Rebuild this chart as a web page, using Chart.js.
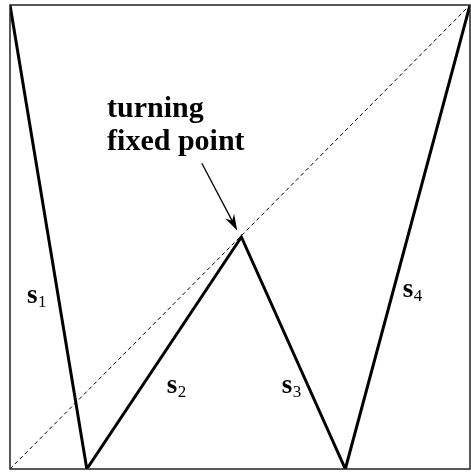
<!DOCTYPE html>
<html>
<head>
<meta charset="utf-8">
<script src="https://cdn.jsdelivr.net/npm/chart.js@4"></script>
<style>
  html, body { margin: 0; padding: 0; background: #fff; }
  #wrap { width: 471px; height: 472px; }
</style>
</head>
<body>
<div id="wrap"><canvas id="mapChart" width="471" height="472"></canvas></div>
<script>
// piecewise linear map: breakpoints of the four branches s1..s4
const mapX = [0, 0.167, 0.503, 0.729, 1];
const mapY = [1, 0, 0.5, 0, 1];

// identity line y = x
const diagX = [0, 1];
const diagY = [0, 1];

// branch labels (text, subscript) and where they sit, in data units
const branchNames = ['1', '2', '3', '4'];
const branchLabelX = [0.037, 0.341, 0.591, 0.854];
const branchLabelY = [0.358, 0.164, 0.164, 0.371];

const noteLines = ['turning', 'fixed point'];

const toPoints = (xs, ys) => xs.map((x, i) => ({ x: x, y: ys[i] }));

// frame round the plot area plus the text and arrow
const annotations = {
    id: 'annotations',
    afterDatasetsDraw(chart) {
        const { ctx, chartArea: a, scales: { x, y } } = chart;
        ctx.save();

        ctx.strokeStyle = '#222';
        ctx.lineWidth = 1.5;
        ctx.strokeRect(a.left, a.top, a.right - a.left, a.bottom - a.top);

        ctx.fillStyle = '#000';
        ctx.textBaseline = 'alphabetic';
        ctx.textAlign = 'left';

        // s_i labels
        branchNames.forEach((n, i) => {
            const px = x.getPixelForValue(branchLabelX[i]);
            const py = y.getPixelForValue(branchLabelY[i]);
            ctx.font = 'bold 27px "Liberation Serif", "Times New Roman", serif';
            ctx.fillText('s', px, py);
            const w = ctx.measureText('s').width;
            ctx.font = '17px "Liberation Serif", "Times New Roman", serif';
            ctx.fillText(n, px + w + 0.5, py + 4);
        });

        // note above the fixed point
        ctx.font = 'bold 30px "Liberation Serif", "Times New Roman", serif';
        const nx = x.getPixelForValue(0.211);
        ctx.fillText(noteLines[0], nx, y.getPixelForValue(0.759));
        ctx.fillText(noteLines[1], nx, y.getPixelForValue(0.6875));

        // arrow pointing at the fixed point
        const x0 = x.getPixelForValue(0.417), y0 = y.getPixelForValue(0.659);
        const x1 = x.getPixelForValue(0.494), y1 = y.getPixelForValue(0.514);
        const ang = Math.atan2(y1 - y0, x1 - x0);
        ctx.strokeStyle = '#000';
        ctx.lineWidth = 1.3;
        ctx.beginPath();
        ctx.moveTo(x0, y0);
        ctx.lineTo(x1 - 10 * Math.cos(ang), y1 - 10 * Math.sin(ang));
        ctx.stroke();
        ctx.beginPath();
        ctx.moveTo(x1, y1);
        ctx.lineTo(x1 - 17 * Math.cos(ang - 0.3), y1 - 17 * Math.sin(ang - 0.3));
        ctx.lineTo(x1 - 11 * Math.cos(ang), y1 - 11 * Math.sin(ang));
        ctx.lineTo(x1 - 17 * Math.cos(ang + 0.3), y1 - 17 * Math.sin(ang + 0.3));
        ctx.closePath();
        ctx.fill();

        ctx.restore();
    }
};

new Chart(document.getElementById('mapChart'), {
    type: 'scatter',
    data: {
        datasets: [
            {
                data: toPoints(diagX, diagY),
                showLine: true,
                borderColor: '#000',
                borderWidth: 1,
                borderDash: [4, 3],
                pointRadius: 0
            },
            {
                data: toPoints(mapX, mapY),
                showLine: true,
                borderColor: '#000',
                borderWidth: 3,
                pointRadius: 0,
                borderJoinStyle: 'miter'
            }
        ]
    },
    options: {
        responsive: false,
        animation: false,
        layout: { padding: { left: 10, top: 5, right: 1, bottom: 3 } },
        plugins: { legend: { display: false }, tooltip: { enabled: false } },
        scales: {
            x: { type: 'linear', min: 0, max: 1, display: false },
            y: { type: 'linear', min: 0, max: 1, display: false }
        }
    },
    plugins: [annotations]
});
</script>
</body>
</html>
